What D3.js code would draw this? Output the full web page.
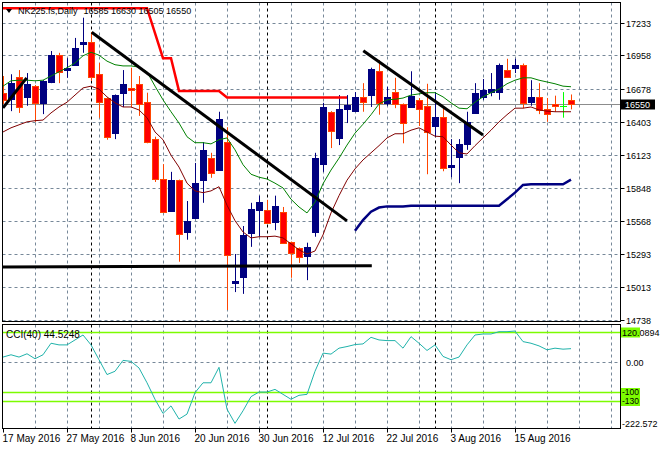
<!DOCTYPE html>
<html><head><meta charset="utf-8">
<script src="https://cdn.jsdelivr.net/npm/d3@7"></script>
<style>body{margin:0;background:#fff}svg{display:block}text{font-family:"Liberation Sans",Arial,sans-serif;fill:#000}</style>
</head><body><svg id="c" width="660" height="450"></svg>
<script>
const dates = ["17 May 2016","18 May 2016","19 May 2016","20 May 2016","23 May 2016","24 May 2016","25 May 2016","26 May 2016","27 May 2016","30 May 2016","31 May 2016",
"1 Jun 2016","2 Jun 2016","3 Jun 2016","6 Jun 2016","7 Jun 2016","8 Jun 2016","9 Jun 2016","10 Jun 2016","13 Jun 2016","14 Jun 2016","15 Jun 2016","16 Jun 2016","17 Jun 2016","20 Jun 2016","21 Jun 2016","22 Jun 2016","23 Jun 2016","24 Jun 2016","27 Jun 2016","28 Jun 2016","29 Jun 2016","30 Jun 2016",
"1 Jul 2016","4 Jul 2016","5 Jul 2016","6 Jul 2016","7 Jul 2016","8 Jul 2016","11 Jul 2016","12 Jul 2016","13 Jul 2016","14 Jul 2016","15 Jul 2016","18 Jul 2016","19 Jul 2016","20 Jul 2016","21 Jul 2016","22 Jul 2016","25 Jul 2016","26 Jul 2016","27 Jul 2016","28 Jul 2016","29 Jul 2016",
"1 Aug 2016","2 Aug 2016","3 Aug 2016","4 Aug 2016","5 Aug 2016","8 Aug 2016","9 Aug 2016","10 Aug 2016","11 Aug 2016","12 Aug 2016","15 Aug 2016","16 Aug 2016","17 Aug 2016","18 Aug 2016","19 Aug 2016","22 Aug 2016","23 Aug 2016","24 Aug 2016"];

const openP  = [16645,16590,16775,16610,16700,16560,16735,16960,16835,16880,17055,17070,16800,16600,16305,16645,16685,16720,16565,16255,15920,15650,15910,15475,15595,15910,16095,15995,16230,15045,15095,15465,15660,15660,15560,15645,15390,15340,15275,15475,16045,16485,16265,16510,16490,16610,16625,16825,16560,16650,16550,16525,16585,16535,16365,16440,16020,16105,16215,16475,16610,16650,16650,16835,16855,16880,16565,16610,16510,16550,16535,16585];
const highP  = [16785,16800,16835,16810,16710,16750,16995,16980,16935,17105,17275,17155,16895,16605,16630,16835,16855,16785,16645,16275,16045,15980,15915,15735,16055,16230,16140,16485,16355,15290,15525,15720,15780,15745,15780,15685,15395,15345,15385,16140,16560,16490,16625,16625,16650,16725,16855,16920,16695,16770,16555,16825,16600,16720,16650,16525,16255,16255,16485,16725,16760,16810,16890,16930,16930,16890,16750,16725,16600,16620,16650,16630];
const lowP   = [16550,16490,16475,16535,16400,16465,16725,16725,16770,16875,16980,16745,16435,16250,16255,16525,16525,16450,16220,15895,15635,15645,15225,15410,15590,15720,15930,15990,14820,14970,14955,15350,15435,15545,15490,15380,15090,15215,15070,15435,15980,16180,16205,16390,16485,16485,16525,16460,16535,16515,16220,16520,16365,15960,16275,15985,15935,15885,16165,16470,16585,16615,16585,16770,16810,16515,16535,16465,16400,16485,16435,16505];
const closeP = [16590,16725,16525,16720,16560,16745,16960,16820,16855,17020,17070,16775,16565,16275,16625,16720,16670,16550,16230,15920,15645,15910,15460,15570,15885,16165,15970,16425,15280,15065,15450,15670,15725,15550,15695,15385,15300,15265,15350,16095,16525,16325,16510,16540,16610,16565,16845,16560,16610,16550,16390,16620,16510,16315,16440,16015,16040,16215,16400,16645,16670,16675,16880,16775,16880,16560,16610,16500,16465,16535,16535,16550];

const maFast = [16700,16745,16750,16750,16745,16750,16785,16820,16855,16895,16955,16985,16960,16910,16880,16870,16870,16860,16820,16700,16585,16485,16390,16275,16225,16225,16215,16250,16265,16165,16040,15960,15935,15920,15885,15845,15750,15685,15635,15725,15880,15995,16095,16205,16305,16380,16460,16550,16585,16590,16600,16625,16635,16645,16645,16610,16560,16515,16510,16565,16610,16645,16675,16720,16750,16770,16770,16750,16735,16720,16700,16695];
const maSlow = [16315,16350,16375,16400,16410,16415,16475,16525,16565,16625,16685,16700,16675,16610,16560,16525,16525,16500,16435,16315,16250,16120,16020,15885,15820,15805,15820,15855,15700,15570,15475,15425,15435,15435,15440,15425,15375,15325,15290,15315,15450,15635,15780,15910,16005,16080,16140,16200,16265,16300,16300,16330,16350,16315,16280,16275,16205,16140,16130,16200,16265,16330,16400,16460,16515,16515,16525,16500,16490,16485,16485,16485];
const stopDown = [17355,17355,17355,17355,17355,17355,17355,17355,17355,17355,17355,17355,17355,17355,17355,17355,17355,17355,17355,17145,16935,16935,16660,16660,16660,16660,16660,16660,16605,16605,16605,16605,16605,16605,16605,16605,16605,16605,16605,16605,16605,16605,16605,16605,
  null,null,null,null,null,null,null,null,null,null,null,null,null,null,null,null,null,null,null,null,null,null,null,null,null,null,null,null];
const stopUp = [null,null,null,null,null,null,null,null,null,null,null,null,null,null,null,null,null,null,null,null,null,null,null,null,null,null,null,null,null,null,null,null,null,null,null,null,null,null,null,null,null,null,null,null,
  15485,15575,15645,15680,15690,15690,15690,15695,15695,15695,15695,15695,15695,15695,15695,15695,15695,15695,15695,15750,15805,15870,15875,15875,15875,15875,15875,15915];
const cci40 = [16.5,24.2,16.5,27.5,11.0,24.2,62.6,57.1,57.1,73.6,90.1,57.1,7.7,-41.8,-30.8,5.5,2.2,-19.8,-69.2,-124.2,-171.4,-146.2,-190.1,-173.6,-102.2,-69.2,-69.2,-17.6,-157.1,-204.4,-162.6,-115.4,-100.0,-100.0,-91.2,-107.7,-124.2,-111.0,-107.7,-30.8,29.7,26.4,46.2,51.6,58.2,60.4,82.4,73.6,71.4,71.4,46.2,84.6,62.6,38.5,57.1,18.7,7.7,16.5,57.1,90.1,93.4,93.4,101.1,101.1,103.3,68.1,62.6,53.8,40.7,46.2,42.9,44.5248];

const priceTicks = [17233,16958,16678,16403,16123,15848,15568,15293,15013,14738];
const cciLevels = [100,-100,-130];
const cciRange = [-222.572,120.0894];
const dateTickIdx = [0,8,16,24,32,40,48,56,64];
const monthStarts = [11,33,54];
const trendLines = [
  [[0,16517],[2.96,16769]],
  [[11.09,17153],[43,15568]],
  [[45.04,16998],[60,16290]],
  [[-0.2,15180],[46.1,15192]]
];
const titleText = "NK225.fs,Daily";
const quoteText = "16585 16630 16505 16550";
const bidPrice = 16550;

const svg = d3.select('#c');
const L=2.5, R=620.5, T=2.5, B=321.5, cT=324.5, cB=428.5;
const x = d3.scaleLinear().domain([0,77]).range([3,619]);
const y = d3.scaleLinear().domain([14738,17233]).range([319.7,22.7]);
const yc = d3.scaleLinear().domain(cciRange).range([428.8,326]);
const gridCol = "#778899";

const defs = svg.append('defs');
defs.append('clipPath').attr('id','cm').append('rect').attr('x',L).attr('y',T).attr('width',R-L).attr('height',B-T);
defs.append('clipPath').attr('id','cc').append('rect').attr('x',L).attr('y',cT).attr('width',R-L).attr('height',cB-cT);

const gm = svg.append('g').attr('clip-path','url(#cm)');
const gc = svg.append('g').attr('clip-path','url(#cc)');
const gridIdx = d3.range(4,77,4);

gm.selectAll('.hg').data(priceTicks).enter().append('line')
  .attr('x1',L).attr('x2',R).attr('y1',d=>Math.round(y(d))+0.5).attr('y2',d=>Math.round(y(d))+0.5)
  .attr('stroke',gridCol).attr('stroke-dasharray','3,3');
gm.selectAll('.vg').data(gridIdx).enter().append('line')
  .attr('x1',d=>x(d)+0.5).attr('x2',d=>x(d)+0.5).attr('y1',T).attr('y2',B)
  .attr('stroke',gridCol).attr('stroke-dasharray','3,3');
gc.selectAll('.vg').data(gridIdx).enter().append('line')
  .attr('x1',d=>x(d)+0.5).attr('x2',d=>x(d)+0.5).attr('y1',cT).attr('y2',cB)
  .attr('stroke',gridCol).attr('stroke-dasharray','3,3');
gc.append('line').attr('x1',L).attr('x2',R).attr('y1',Math.round(yc(0))+0.5).attr('y2',Math.round(yc(0))+0.5)
  .attr('stroke',gridCol).attr('stroke-dasharray','3,3');

[ [gm,T,B],[gc,cT,cB] ].forEach(([g,a,b])=>{
  g.selectAll('.ms').data(monthStarts).enter().append('line')
   .attr('x1',d=>x(d)+0.5).attr('x2',d=>x(d)+0.5).attr('y1',a).attr('y2',b)
   .attr('stroke','#000').attr('stroke-dasharray','3,3');
});

gm.append('line').attr('x1',L).attr('x2',R).attr('y1',Math.round(y(bidPrice))+0.5).attr('y2',Math.round(y(bidPrice))+0.5)
  .attr('stroke','#8c8c8c').attr('stroke-width',1);

const bars = d3.range(dates.length).map(i=>({i,o:openP[i],h:highP[i],l:lowP[i],c:closeP[i]}));
const col = d=> d.c>d.o ? '#000080' : (d.c<d.o ? '#FF4500' : '#00FF00');
const fill = d=> d.c>d.o ? '#000080' : (d.c<d.o ? '#FF0000' : '#00FF00');
gm.selectAll('.wk').data(bars).enter().append('line')
  .attr('x1',d=>Math.round(x(d.i))+0.5).attr('x2',d=>Math.round(x(d.i))+0.5)
  .attr('y1',d=>y(d.h)).attr('y2',d=>y(d.l)).attr('stroke',col).attr('stroke-width',1);
gm.selectAll('.bd').data(bars.filter(d=>d.o!==d.c)).enter().append('rect')
  .attr('x',d=>Math.round(x(d.i))-2.5).attr('width',6)
  .attr('y',d=>Math.round(y(Math.max(d.o,d.c)))+0.5)
  .attr('height',d=>Math.max(1,Math.round(Math.abs(y(d.o)-y(d.c)))))
  .attr('fill',fill).attr('stroke',col).attr('stroke-width',1);
gm.selectAll('.dj').data(bars.filter(d=>d.o===d.c)).enter().append('line')
  .attr('x1',d=>Math.round(x(d.i))-3).attr('x2',d=>Math.round(x(d.i))+4)
  .attr('y1',d=>Math.round(y(d.o))+0.5).attr('y2',d=>Math.round(y(d.o))+0.5)
  .attr('stroke','#00FF00');

const lineOf = (arr, sc) => d3.line().defined(d=>d!=null).x((d,i)=>x(i)).y(d=>sc(d))(arr);
gm.append('path').attr('d',lineOf(maSlow,y)).attr('fill','none').attr('stroke','#800000').attr('stroke-width',1);
gm.append('path').attr('d',lineOf(maFast,y)).attr('fill','none').attr('stroke','#008000').attr('stroke-width',1);
gm.append('path').attr('d',lineOf(stopDown,y)).attr('fill','none').attr('stroke','#FF0000').attr('stroke-width',2.5);
gm.append('path').attr('d',lineOf(stopUp,y)).attr('fill','none').attr('stroke','#000080').attr('stroke-width',2.5);

gm.selectAll('.tl').data(trendLines).enter().append('line')
  .attr('x1',d=>x(d[0][0])).attr('y1',d=>y(d[0][1])).attr('x2',d=>x(d[1][0])).attr('y2',d=>y(d[1][1]))
  .attr('stroke','#000').attr('stroke-width',3);

gc.selectAll('.lv').data(cciLevels).enter().append('line')
  .attr('x1',L).attr('x2',R).attr('y1',d=>Math.round(yc(d))+0.5).attr('y2',d=>Math.round(yc(d))+0.5)
  .attr('stroke','#7CFC00').attr('stroke-width',1.5);
gc.append('path').attr('d',lineOf(cci40,yc)).attr('fill','none').attr('stroke','#20B2AA').attr('stroke-width',1);

svg.append('rect').attr('x',L).attr('y',T).attr('width',R-L).attr('height',B-T).attr('fill','none').attr('stroke','#000');
svg.append('rect').attr('x',L).attr('y',cT).attr('width',R-L).attr('height',cB-cT).attr('fill','none').attr('stroke','#000');

const fs = 9, fd = 10;
priceTicks.forEach(p=>{
  const yy = Math.round(y(p))+0.5;
  svg.append('line').attr('x1',R).attr('x2',R+4).attr('y1',yy).attr('y2',yy).attr('stroke','#000');
  svg.append('text').attr('x',626).attr('y',yy).attr('dy','0.35em').attr('font-size',fs).text(p);
});
const by = Math.round(y(bidPrice))+0.5;
svg.append('rect').attr('x',621).attr('y',by-5).attr('width',34).attr('height',10).attr('fill','#000');
svg.append('text').attr('x',625).attr('y',by).attr('dy','0.35em').attr('font-size',fs).style('fill','#fff').text(bidPrice);

const cy100 = Math.round(yc(100))+0.5;
svg.append('rect').attr('x',621).attr('y',cy100-5).attr('width',19).attr('height',10).attr('fill','#7CFC00');
svg.append('text').attr('x',622).attr('y',cy100).attr('dy','0.35em').attr('font-size',fs).text(cciRange[1].toFixed(4));
svg.append('text').attr('x',626).attr('y',Math.round(yc(0))+0.5).attr('dy','0.35em').attr('font-size',fs).text('0.00');
[-100,-130].forEach(v=>{
  const yy=Math.round(yc(v))+0.5;
  svg.append('rect').attr('x',621).attr('y',yy-4.5).attr('width',19).attr('height',9).attr('fill','#7CFC00');
  svg.append('text').attr('x',622).attr('y',yy).attr('dy','0.33em').attr('font-size',8.5).text(v);
});
svg.append('text').attr('x',622).attr('y',424).attr('dy','0.35em').attr('font-size',fs).text(cciRange[0]);

dateTickIdx.forEach(i=>{
  const xx = Math.round(x(i))+0.5;
  svg.append('line').attr('x1',xx).attr('x2',xx).attr('y1',cB).attr('y2',cB+4).attr('stroke','#000');
  svg.append('text').attr('x',xx-1).attr('y',442).attr('font-size',fd).text(dates[i]);
});

svg.append('path').attr('d','M6,9 L12,9 L9,13 Z').attr('fill','#000');
const t1 = svg.append('text').attr('x',18).attr('y',11).attr('dy','0.35em').attr('font-size',fs).text(titleText);
const w1 = t1.node().getComputedTextLength();
svg.append('text').attr('x',18+w1+6).attr('y',11).attr('dy','0.35em').attr('font-size',fs).text(quoteText);
svg.append('text').attr('x',6).attr('y',334).attr('dy','0.35em').attr('font-size',fd).text('CCI(40) ' + cci40[cci40.length-1].toFixed(4));
</script></body></html>
